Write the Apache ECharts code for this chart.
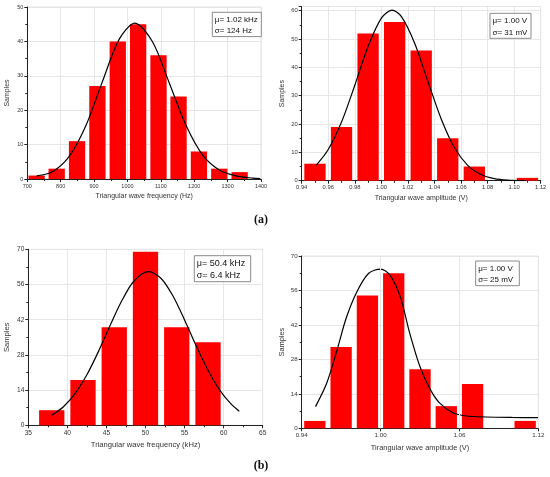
<!DOCTYPE html>
<html>
<head>
<meta charset="utf-8">
<script src="https://cdn.jsdelivr.net/npm/echarts@6/dist/echarts.min.js"></script>
<style>
html, body { margin: 0; padding: 0; background: #fff; }
#chart { width: 550px; height: 477px; }
</style>
</head>
<body>
<div id="chart"></div>
<script>
// (a) left: frequency histogram, Hz
var freqBins = [728, 788, 849, 910, 971, 1032, 1093, 1153, 1214, 1275, 1336];
var freqCounts = [1, 3, 11, 27, 40, 45, 36, 24, 8, 3, 2];
var freqFitX = [728, 775, 825, 875, 925, 975, 1022, 1075, 1125, 1175, 1225, 1275, 1325, 1375, 1398];
var freqFitY = [0.9, 2.1, 6.5, 15.4, 28.3, 40.6, 45.3, 39.9, 28.0, 15.7, 7.0, 2.6, 0.9, 0.25, 0.1];

// (a) right: amplitude histogram, V
var ampBins = [0.95, 0.97, 0.99, 1.01, 1.03, 1.05, 1.07, 1.09, 1.11];
var ampCounts = [6, 19, 52, 56, 46, 15, 5, 0, 1];
var ampFitX = [0.951, 0.96, 0.97, 0.98, 0.99, 1.0, 1.008, 1.015, 1.025, 1.035, 1.045, 1.055, 1.065, 1.075, 1.085, 1.095, 1.109];
var ampFitY = [5.5, 11.0, 20.7, 33.7, 47.4, 57.4, 60.2, 58.0, 48.6, 35.1, 21.9, 11.7, 5.4, 2.2, 0.75, 0.22, 0.03];

// (b) left: frequency histogram, kHz
var khzBins = [38, 42, 46, 50, 54, 58];
var khzCounts = [6, 18, 39, 69, 39, 33];
var khzFitX = [38, 39.5, 41, 42.5, 44, 45.5, 47, 48.5, 50.4, 52, 53.5, 55, 56.5, 58, 59.5, 61, 62];
var khzFitY = [4.0, 7.4, 12.7, 20.1, 29.5, 39.9, 49.7, 57.3, 61.1, 58.4, 51.5, 41.9, 31.5, 21.9, 14.0, 8.3, 5.6];

// (b) right: amplitude histogram, V
var amp2Bins = [0.95, 0.97, 0.99, 1.01, 1.03, 1.05, 1.07, 1.09, 1.11];
var amp2Counts = [3, 33, 54, 63, 24, 9, 18, 0, 3];
var amp2FitX = [0.9505, 0.959, 0.967, 0.974, 0.982, 0.991, 1.0, 1.007, 1.015, 1.022, 1.03, 1.038, 1.045, 1.055, 1.065, 1.08, 1.1, 1.12];
var amp2FitY = [8.8, 18.3, 32, 45, 55.5, 63, 64.7, 62.3, 53.5, 39, 25, 15.6, 10.2, 6.3, 5.0, 4.6, 4.4, 4.3];
var amp2Ticks = [0.94, 1.00, 1.06, 1.12];

var FONT = '"Liberation Sans", Arial, sans-serif';
var AXIS_COLOR = '#222';
var GRID_COLOR = '#e6e6e6';

function pairs(xs, ys) {
    return xs.map(function (x, i) { return [x, ys[i]]; });
}

function axis(opt) {
    var a = {
        type: 'value',
        gridIndex: opt.grid,
        min: opt.min,
        max: opt.max,
        interval: opt.interval,
        name: opt.name,
        nameLocation: 'middle',
        nameGap: opt.nameGap,
        nameRotate: opt.rotate || 0,
        nameTextStyle: { fontFamily: FONT, fontSize: opt.nameSize, color: '#333' },
        axisLine: { show: true, onZero: false, lineStyle: { color: AXIS_COLOR, width: 1 } },
        axisTick: { show: true, length: 3, lineStyle: { color: AXIS_COLOR } },
        minorTick: { show: opt.minor !== false, splitNumber: 2, length: 2, lineStyle: { color: AXIS_COLOR } },
        axisLabel: {
            fontFamily: FONT, fontSize: opt.labelSize, color: '#333', margin: 4,
            showMaxLabel: opt.showMax !== false,
            formatter: opt.fmt || function (v) { return String(v); }
        },
        splitLine: { show: opt.split !== false, lineStyle: { color: GRID_COLOR, width: 1 } }
    };
    if (opt.custom) {
        a.axisLabel.customValues = opt.custom;
        a.axisTick.customValues = opt.custom;
        delete a.interval;
    }
    return a;
}

function bars(idx, xs, ys, w) {
    return {
        type: 'bar', xAxisIndex: idx, yAxisIndex: idx,
        barWidth: w,
        itemStyle: { color: '#ff0000' },
        data: pairs(xs, ys)
    };
}

function fit(idx, xs, ys) {
    return {
        type: 'line', xAxisIndex: idx, yAxisIndex: idx,
        smooth: 0.3, showSymbol: false, silent: true,
        lineStyle: { color: '#000', width: 1.2 },
        data: pairs(xs, ys),
        z: 3
    };
}

function box(x, y, w, h, lines, size) {
    return {
        type: 'group',
        children: [
            { type: 'rect', shape: { x: x, y: y, width: w, height: h },
              style: { fill: '#fff', stroke: '#8a8a8a', lineWidth: 1 }, z: 10 },
            { type: 'text', x: x + 2.5, y: y + h * 0.3,
              style: { text: lines[0], fontFamily: FONT, fontSize: size, fill: '#111', verticalAlign: 'middle' }, z: 11 },
            { type: 'text', x: x + 2.5, y: y + h * 0.76,
              style: { text: lines[1], fontFamily: FONT, fontSize: size, fill: '#111', verticalAlign: 'middle' }, z: 11 }
        ]
    };
}

var chart = echarts.init(document.getElementById('chart'));

var twoDec = function (v) { return v.toFixed(2); };

var option = {
    backgroundColor: '#fff',
    animation: false,
    grid: [
        { left: 27.3, right: 289, top: 7, bottom: 298, show: true, borderColor: GRID_COLOR, borderWidth: 1 },
        { left: 301.7, right: 9.3, top: 6.5, bottom: 296.3, show: true, borderColor: GRID_COLOR, borderWidth: 1 },
        { left: 28.3, right: 287.3, top: 249.3, bottom: 51.7, show: true, borderColor: GRID_COLOR, borderWidth: 1 },
        { left: 301.7, right: 11.7, top: 256, bottom: 48.7, show: true, borderColor: GRID_COLOR, borderWidth: 1 }
    ],
    xAxis: [
        axis({ grid: 0, min: 700, max: 1400, interval: 100, name: 'Triangular wave frequency (Hz)', nameGap: 14, nameSize: 7, labelSize: 5.5 }),
        axis({ grid: 1, min: 0.94, max: 1.12, interval: 0.02, name: 'Triangular wave amplitude (V)', nameGap: 14, nameSize: 7, labelSize: 5.8, fmt: twoDec }),
        axis({ grid: 2, min: 35, max: 65, interval: 5, name: 'Triangular wave frequency (kHz)', nameGap: 16, nameSize: 7.6, labelSize: 6.6 }),
        axis({ grid: 3, min: 0.94, max: 1.12, custom: amp2Ticks, name: 'Tirangular wave amplitude (V)', nameGap: 16, nameSize: 7.4, labelSize: 6.2, fmt: twoDec, minor: false, split: false })
    ],
    yAxis: [
        axis({ grid: 0, min: 0, max: 50, interval: 10, name: 'Samples', nameGap: 17, rotate: 90, nameSize: 7, labelSize: 5.5 }),
        axis({ grid: 1, min: 0, max: 61.5, interval: 10, name: 'Samples', nameGap: 16, rotate: 90, nameSize: 7, labelSize: 5.8, showMax: false }),
        axis({ grid: 2, min: 0, max: 70, interval: 14, name: 'Samples', nameGap: 17, rotate: 90, nameSize: 7.6, labelSize: 6.6 }),
        axis({ grid: 3, min: 0, max: 70, interval: 14, name: 'Samples', nameGap: 16, rotate: 90, nameSize: 7.4, labelSize: 6.2 })
    ],
    series: [
        bars(0, freqBins, freqCounts, 16.3),
        fit(0, freqFitX, freqFitY),
        bars(1, ampBins, ampCounts, 21.3),
        fit(1, ampFitX, ampFitY),
        bars(2, khzBins, khzCounts, 25.3),
        fit(2, khzFitX, khzFitY),
        Object.assign(bars(3, amp2Bins, amp2Counts, 21.3), {
            markLine: {
                silent: true, symbol: 'none', label: { show: false },
                lineStyle: { color: GRID_COLOR, width: 1, type: 'solid' },
                data: amp2Ticks.slice(1).map(function (v) { return { xAxis: v }; })
            }
        }),
        fit(3, amp2FitX, amp2FitY)
    ],
    graphic: [
        box(212.3, 12.3, 49, 24.3, ['\u03bc= 1.02 kHz', '\u03c3= 124 Hz'], 8),
        box(490, 13.3, 41, 25, ['\u03bc= 1.00 V', '\u03c3= 31 mV'], 8),
        box(194.3, 255.7, 56.4, 26, ['\u03bc= 50.4 kHz', '\u03c3= 6.4 kHz'], 9),
        box(475.7, 261, 43.6, 24.7, ['\u03bc= 1.00 V', '\u03c3= 25 mV'], 8),
        { type: 'text', x: 261, y: 219.5,
          style: { text: '(a)', fontFamily: '"Liberation Serif", "DejaVu Serif", serif', fontWeight: 'bold', fontSize: 12, fill: '#111', align: 'center', verticalAlign: 'middle' } },
        { type: 'text', x: 261, y: 466,
          style: { text: '(b)', fontFamily: '"Liberation Serif", "DejaVu Serif", serif', fontWeight: 'bold', fontSize: 12, fill: '#111', align: 'center', verticalAlign: 'middle' } }
    ]
};

chart.setOption(option);

window.addEventListener('resize', function () {
    chart.resize();
});
</script>
</body>
</html>
